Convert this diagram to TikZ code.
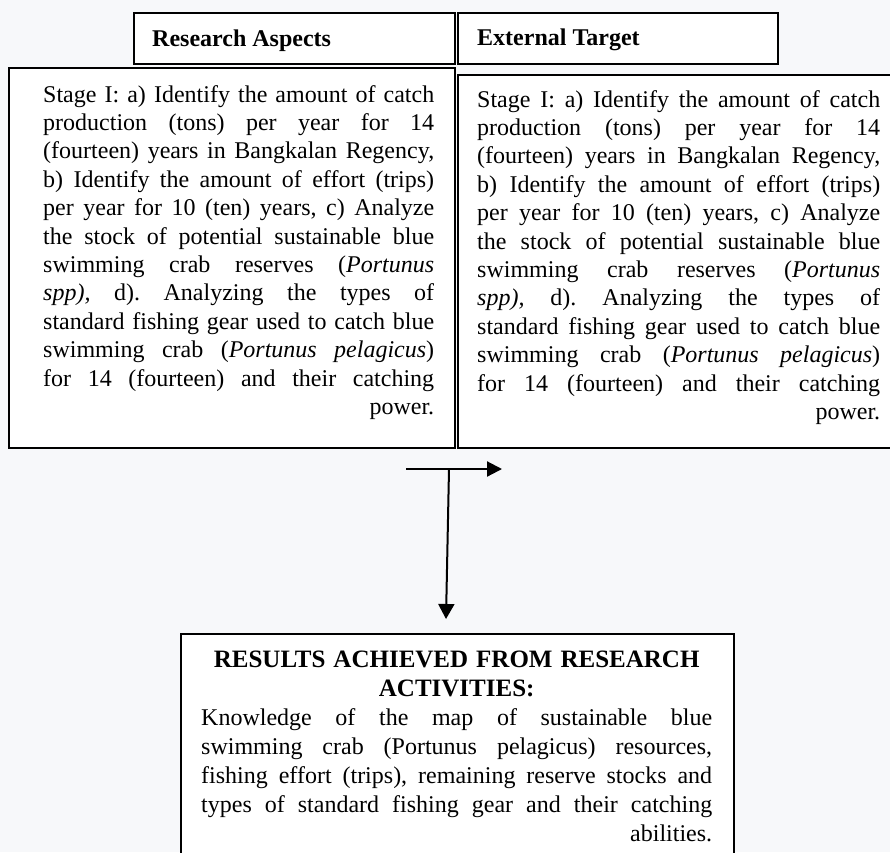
\documentclass[tikz,border=0pt]{standalone}
\usepackage{fontspec}
\setmainfont{Liberation Serif}
\usetikzlibrary{arrows.meta, positioning}
\definecolor{pagegray}{HTML}{F7F8FA}
\setlength{\parindent}{0pt}
\newcommand{\jline}[1]{\makebox[\linewidth][s]{\frenchspacing\spaceskip=0.25em plus 1fil\relax #1}\\}

\begin{document}
\begin{tikzpicture}[x=1pt,y=-1pt,
    every node/.style={font=\fontsize{24}{28.4}\selectfont, inner sep=0pt},
    frame/.style={draw, line width=1.6pt, fill=white, anchor=north west},
    headtxt/.style={font=\fontsize{24}{28.4}\selectfont\bfseries, anchor=west},
    body/.style={anchor=north west, align=left}]
    \useasboundingbox (0,0) rectangle (890,852);
    \clip (0,0) rectangle (890,852);
    \fill[pagegray] (0,0) rectangle (890,852);

    % header row
    \node[frame, minimum width=321pt, minimum height=51pt] (headL) at (133,12) {};
    \node[frame, minimum width=320pt, minimum height=51pt] (headR) at (457,12) {};
    \node[headtxt] (headLtxt) at ([xshift=19pt,yshift=-2pt]headL.west) {Research Aspects};
    \node[headtxt] (headRtxt) at ([xshift=20pt,yshift=-2pt]headR.west) {External Target};

    % stage boxes
    \node[frame, minimum width=446pt, minimum height=380pt] (boxL) at (8,67) {};
    \node[frame, minimum width=434pt, minimum height=373pt] (boxR) at (457,74) {};

    \node[body, text width=391pt] (stageL) at (43,85) {%
        \jline{Stage I: a) Identify the amount of catch}
        \jline{production (tons) per year for 14}
        \jline{(fourteen) years in Bangkalan Regency,}
        \jline{b) Identify the amount of effort (trips)}
        \jline{per year for 10 (ten) years, c) Analyze}
        \jline{the stock of potential sustainable blue}
        \jline{swimming crab reserves (\textit{Portunus}}
        \jline{\textit{spp),} d). Analyzing the types of}
        \jline{standard fishing gear used to catch blue}
        \jline{swimming crab (\textit{Portunus pelagicus})}
        \jline{for 14 (fourteen) and their catching}
        \makebox[\linewidth][r]{power.}};

    \node[body, text width=403pt] (stageR) at (477,90) {%
        \jline{Stage I: a) Identify the amount of catch}
        \jline{production (tons) per year for 14}
        \jline{(fourteen) years in Bangkalan Regency,}
        \jline{b) Identify the amount of effort (trips)}
        \jline{per year for 10 (ten) years, c) Analyze}
        \jline{the stock of potential sustainable blue}
        \jline{swimming crab reserves (\textit{Portunus}}
        \jline{\textit{spp),} d). Analyzing the types of}
        \jline{standard fishing gear used to catch blue}
        \jline{swimming crab (\textit{Portunus pelagicus})}
        \jline{for 14 (fourteen) and their catching}
        \makebox[\linewidth][r]{power.}};

    % results
    \node[frame, minimum width=553pt, minimum height=300pt] (results) at (180,633) {};
    \node[body, text width=511pt, font=\fontsize{24}{29}\selectfont] (resultstxt) at (201,651) {%
        {\centering\fontsize{25}{29}\selectfont\bfseries RESULTS ACHIEVED FROM RESEARCH\\ ACTIVITIES:\par}
        \jline{Knowledge of the map of sustainable blue}
        \jline{swimming crab (Portunus pelagicus) resources,}
        \jline{fishing effort (trips), remaining reserve stocks and}
        \jline{types of standard fishing gear and their catching}
        \makebox[\linewidth][r]{abilities.}};

    % arrows
    \coordinate (hstart) at (406,469);
    \coordinate (hend) at (502,469);
    \coordinate (tee) at (449,469);
    \coordinate (vend) at (446,619);
    \draw[line width=2.2pt, -{Triangle[length=15pt, width=15pt]}] (hstart) -- (hend);
    \draw[line width=2pt, -{Triangle[length=15pt, width=16pt]}] (tee) -- (vend);
\end{tikzpicture}
\end{document}
